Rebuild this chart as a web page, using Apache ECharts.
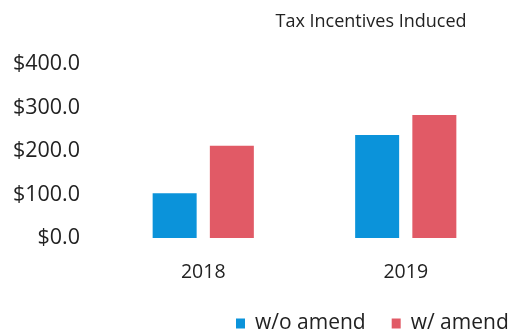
<!DOCTYPE html>
<html><head><meta charset="utf-8">
<script src="https://cdn.jsdelivr.net/npm/echarts@6/dist/echarts.min.js"></script>
<style>html,body{margin:0;padding:0;background:#fff}#c{width:514px;height:335px}</style>
</head><body><div id="c"></div>
<script>
const categories = ['2018', '2019'];
const withoutAmend = [103, 237];
const withAmend = [212, 283];
const seriesNames = ['w/o amend', 'w/ amend'];
const yTicks = [0, 100, 200, 300, 400];

const chart = echarts.init(document.getElementById('c'));
const font = 'Open Sans';
chart.setOption({
  animation: false,
  title: {
    text: 'Tax Incentives Induced', left: 366, top: 8, textAlign: 'center',
    textStyle: { fontFamily: font, fontSize: 18, fontWeight: 'normal', color: '#222' }
  },
  legend: {
    data: seriesNames, left: 236, top: 313, padding: 0, itemWidth: 9, itemHeight: 10, itemGap: 26,
    icon: 'rect',
    textStyle: { fontFamily: font, fontSize: 21, color: '#222', padding: [0, 0, 0, 5] }
  },
  grid: { left: 102, right: 7, top: 64, bottom: 97, containLabel: false },
  xAxis: {
    type: 'category', data: categories,
    axisLine: { show: false }, axisTick: { show: false },
    axisLabel: { fontFamily: font, fontSize: 19.5, color: '#222', margin: 24 }
  },
  yAxis: {
    type: 'value', min: yTicks[0], max: yTicks[yTicks.length - 1], interval: 100,
    splitLine: { show: false }, axisLine: { show: false }, axisTick: { show: false },
    axisLabel: { fontFamily: font, fontSize: 21.5, color: '#222', margin: 22,
      formatter: v => '$' + v.toFixed(1) }
  },
  series: [
    { name: seriesNames[0], type: 'bar', data: withoutAmend, barWidth: 44, barGap: '30%',
      itemStyle: { color: '#0B93DA' } },
    { name: seriesNames[1], type: 'bar', data: withAmend, barWidth: 44,
      itemStyle: { color: '#E15A66' } }
  ]
});
</script></body></html>
